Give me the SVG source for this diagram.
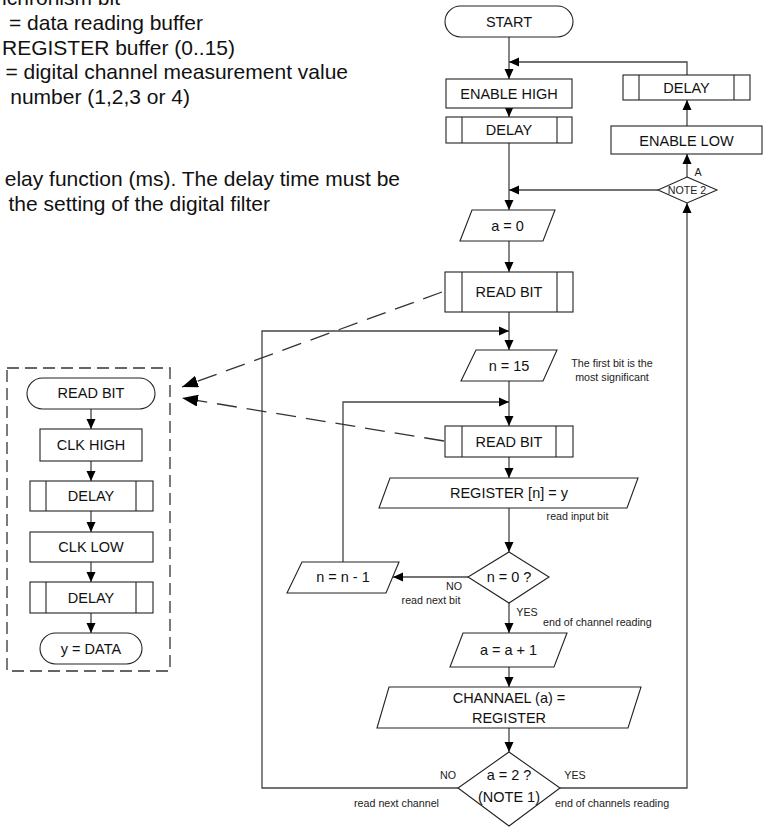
<svg xmlns="http://www.w3.org/2000/svg" width="765" height="827" viewBox="0 0 765 827">
<defs>
<marker id="ah" viewBox="0 0 10 10" refX="10" refY="5" markerWidth="10" markerHeight="10" markerUnits="userSpaceOnUse" orient="auto">
<path d="M0,0.5 L10,5 L0,9.5 z" fill="#000"/>
</marker>
<marker id="ahb" viewBox="0 0 16 12" refX="16" refY="6" markerWidth="16" markerHeight="12" markerUnits="userSpaceOnUse" orient="auto">
<path d="M0,0 L16,6 L0,12 z" fill="#000"/>
</marker>
<style>
.nd{fill:#fff;stroke:#222;stroke-width:1.1}
.ln{fill:none;stroke:#444;stroke-width:1.3}
.cn{fill:none;stroke:#444;stroke-width:1.3;marker-end:url(#ah)}
.ds{fill:none;stroke:#333;stroke-width:1.3;stroke-dasharray:20 10;marker-end:url(#ahb)}
.t{font-family:"Liberation Sans",Arial,sans-serif;font-size:14.5px;fill:#111;text-anchor:middle}
.s{font-family:"Liberation Sans",Arial,sans-serif;font-size:10.7px;fill:#222}
.n{font-family:"Liberation Sans",Arial,sans-serif;font-size:21px;fill:#111;text-anchor:end}
</style>
</defs>
<rect width="765" height="827" fill="#fff"/>

<g id="notes">
<text class="n" x="120" y="5">nchronism bit</text>
<text class="n" x="203" y="30">= data reading buffer</text>
<text class="n" x="235" y="54.5">REGISTER buffer (0..15)</text>
<text class="n" x="348" y="79">= digital channel measurement value</text>
<text class="n" x="190" y="103.5">number (1,2,3 or 4)</text>
<text class="n" x="400" y="186">elay function (ms). The delay time must be</text>
<text class="n" x="270" y="210.5">the setting of the digital filter</text>
</g>

<g id="connectors">
<line class="cn" x1="509" y1="37" x2="509" y2="79"/>
<line class="cn" x1="509" y1="108" x2="509" y2="117"/>
<line class="cn" x1="509" y1="143" x2="509" y2="210"/>
<line class="cn" x1="509" y1="241" x2="509" y2="272"/>
<line class="cn" x1="509" y1="312" x2="509" y2="350"/>
<line class="cn" x1="509" y1="381" x2="509" y2="426"/>
<line class="cn" x1="509" y1="457" x2="509" y2="478"/>
<line class="cn" x1="509" y1="508" x2="509" y2="552"/>
<line class="cn" x1="468" y1="577" x2="393" y2="577"/>
<polyline class="cn" points="343,562 343,402 509,402"/>
<line class="cn" x1="509" y1="603" x2="509" y2="633"/>
<line class="cn" x1="509" y1="667" x2="509" y2="687"/>
<line class="cn" x1="509" y1="728" x2="509" y2="752"/>
<polyline class="cn" points="458,788 262,788 262,331 509,331"/>
<polyline class="cn" points="560,788 687,788 687,203"/>
<line class="cn" x1="658" y1="190" x2="509" y2="190"/>
<line class="cn" x1="687" y1="177" x2="687" y2="154"/>
<line class="cn" x1="687" y1="126" x2="687" y2="100"/>
<polyline class="cn" points="687,75 687,62 509,62"/>
<line class="cn" x1="91" y1="409" x2="91" y2="429"/>
<line class="cn" x1="91" y1="461" x2="91" y2="481"/>
<line class="cn" x1="91" y1="511" x2="91" y2="532"/>
<line class="cn" x1="91" y1="562" x2="91" y2="582"/>
<line class="cn" x1="91" y1="613" x2="91" y2="633"/>
<line class="ds" x1="442" y1="292" x2="182" y2="387"/>
<line class="ds" x1="444" y1="441" x2="182" y2="398"/>
</g>

<g id="start"><rect class="nd" x="445" y="6" width="128" height="31" rx="15.5"/><text class="t" x="509" y="26.5">START</text></g>
<g id="enable-high"><rect class="nd" x="446" y="79" width="126" height="29"/><text class="t" x="509" y="99">ENABLE HIGH</text></g>
<g id="delay-1"><rect class="nd" x="446" y="117" width="126" height="26"/><line class="nd" x1="462" y1="117" x2="462" y2="143"/><line class="nd" x1="557" y1="117" x2="557" y2="143"/><text class="t" x="509" y="135">DELAY</text></g>
<g id="delay-2"><rect class="nd" x="623" y="75" width="127" height="25"/><line class="nd" x1="639" y1="75" x2="639" y2="100"/><line class="nd" x1="734" y1="75" x2="734" y2="100"/><text class="t" x="686.5" y="92.5">DELAY</text></g>
<g id="enable-low"><rect class="nd" x="611" y="126" width="151" height="28"/><text class="t" x="686.5" y="145.5">ENABLE LOW</text></g>
<g id="note2"><polygon class="nd" points="687,177 717,190 687,203 658,190"/><text class="s" x="687" y="194" text-anchor="middle">NOTE 2</text><text class="s" x="698" y="176" text-anchor="middle">A</text></g>
<g id="a0"><polygon class="nd" points="472,210 555,210 543,241 460,241"/><text class="t" x="507.5" y="231">a = 0</text></g>
<g id="read-bit-1"><rect class="nd" x="445" y="272" width="128" height="40"/><line class="nd" x1="462" y1="272" x2="462" y2="312"/><line class="nd" x1="557" y1="272" x2="557" y2="312"/><text class="t" x="509" y="297">READ BIT</text></g>
<g id="n15"><polygon class="nd" points="476,350 557,350 543,381 461,381"/><text class="t" x="509" y="370.5">n = 15</text><text class="s" x="612" y="367" text-anchor="middle">The first bit is the</text><text class="s" x="612" y="381" text-anchor="middle">most significant</text></g>
<g id="read-bit-2"><rect class="nd" x="445" y="426" width="128" height="31"/><line class="nd" x1="462" y1="426" x2="462" y2="457"/><line class="nd" x1="556" y1="426" x2="556" y2="457"/><text class="t" x="509" y="446.5">READ BIT</text></g>
<g id="register"><polygon class="nd" points="390,478 638,478 627,508 379,508"/><text class="t" x="509" y="498">REGISTER [n] = y</text><text class="s" x="577.5" y="520" text-anchor="middle">read input bit</text></g>
<g id="n0"><polygon class="nd" points="509,552 549,577 509,603 468,577"/><text class="t" x="509" y="582">n = 0 ?</text><text class="s" x="454" y="590" text-anchor="middle">NO</text><text class="s" x="431" y="604" text-anchor="middle">read next bit</text><text class="s" x="527" y="616" text-anchor="middle">YES</text><text class="s" x="543" y="625.5">end of channel reading</text></g>
<g id="ndec"><polygon class="nd" points="302,562 399,562 386,593 287,593"/><text class="t" x="343" y="582">n = n - 1</text></g>
<g id="ainc"><polygon class="nd" points="463,633 567,633 554,667 450,667"/><text class="t" x="508.5" y="655">a = a + 1</text></g>
<g id="channel"><polygon class="nd" points="389,687 641,687 628,728 377,728"/><text class="t" x="509" y="703">CHANNAEL (a) =</text><text class="t" x="509" y="722.5">REGISTER</text></g>
<g id="a2"><polygon class="nd" points="509,752 560,788 509,826 458,788"/><text class="t" x="509" y="780">a = 2 ?</text><text class="t" x="509" y="802">(NOTE 1)</text><text class="s" x="448" y="779" text-anchor="middle">NO</text><text class="s" x="575" y="779" text-anchor="middle">YES</text><text class="s" x="396.5" y="807" text-anchor="middle">read next channel</text><text class="s" x="555" y="807">end of channels reading</text></g>

<g id="read-bit-sub">
<rect x="7" y="368" width="163" height="303" fill="none" stroke="#333" stroke-width="1.3" stroke-dasharray="12 6"/>
</g>
<g id="sub-read-bit"><rect class="nd" x="27" y="378" width="128" height="31" rx="15.5"/><text class="t" x="91" y="398">READ BIT</text></g>
<g id="clk-high"><rect class="nd" x="40" y="429" width="102" height="32"/><text class="t" x="91" y="450">CLK HIGH</text></g>
<g id="sub-delay-1"><rect class="nd" x="30" y="481" width="123" height="30"/><line class="nd" x1="46" y1="481" x2="46" y2="511"/><line class="nd" x1="136" y1="481" x2="136" y2="511"/><text class="t" x="91" y="501">DELAY</text></g>
<g id="clk-low"><rect class="nd" x="30" y="532" width="123" height="30"/><text class="t" x="91" y="552">CLK LOW</text></g>
<g id="sub-delay-2"><rect class="nd" x="30" y="582" width="123" height="31"/><line class="nd" x1="46" y1="582" x2="46" y2="613"/><line class="nd" x1="136" y1="582" x2="136" y2="613"/><text class="t" x="91" y="603">DELAY</text></g>
<g id="y-data"><rect class="nd" x="40" y="633" width="102" height="31" rx="15.5"/><text class="t" x="91" y="654">y = DATA</text></g>
</svg>
